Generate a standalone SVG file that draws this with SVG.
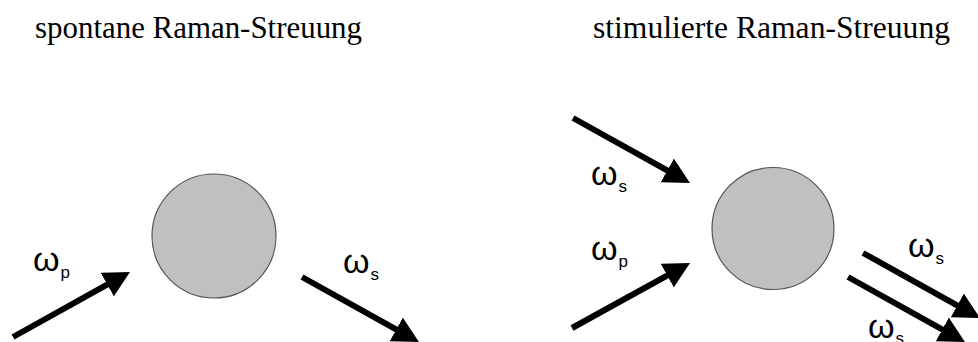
<svg xmlns="http://www.w3.org/2000/svg" width="978" height="342" viewBox="0 0 978 342">
<style>
.title{font-family:"Liberation Serif","Times New Roman",serif;font-size:31px;fill:#000}
.lbl{font-family:"Liberation Sans",Arial,sans-serif;font-size:34px;fill:#000}
.sub{font-size:17px}
.ball{fill:#c0c0c0;stroke:#555;stroke-width:1.2}
.arr{stroke:#000;stroke-width:6;fill:none;marker-end:url(#head)}
</style>
<defs>
<marker id="head" viewBox="0 0 26 27" markerWidth="26" markerHeight="27" refX="6" refY="13.5" markerUnits="userSpaceOnUse" orient="auto">
<path d="M0,0 L26,13.5 L0,27 z" fill="#000"/>
</marker>
</defs>
<rect width="978" height="342" fill="#fff"/>
<text class="title" x="35" y="38" textLength="327" lengthAdjust="spacingAndGlyphs">spontane Raman-Streuung</text>
<text class="title" x="593" y="38" textLength="357" lengthAdjust="spacingAndGlyphs">stimulierte Raman-Streuung</text>
<g id="scatterer-spontaneous"><circle class="ball" cx="214" cy="236" r="62"/></g>
<g id="scatterer-stimulated"><circle class="ball" cx="773" cy="228.5" r="61"/></g>
<g id="connectors">
<line class="arr" x1="13" y1="337" x2="112.5" y2="281.7"/>
<line class="arr" x1="302" y1="277" x2="401.5" y2="332.3"/>
<line class="arr" x1="573" y1="118" x2="672.5" y2="173.3"/>
<line class="arr" x1="572" y1="328" x2="672.5" y2="272.7"/>
<line class="arr" x1="863" y1="253" x2="962.5" y2="308.3"/>
<line class="arr" x1="848" y1="277" x2="947.5" y2="332.3"/>
</g>
<g id="labels">
<text class="lbl" x="33" y="271">ω<tspan class="sub" dx="1" dy="7">p</tspan></text>
<text class="lbl" x="343" y="273">ω<tspan class="sub" dx="1" dy="7">s</tspan></text>
<text class="lbl" x="591" y="185">ω<tspan class="sub" dx="1" dy="7">s</tspan></text>
<text class="lbl" x="591" y="260">ω<tspan class="sub" dx="1" dy="7">p</tspan></text>
<text class="lbl" x="908" y="257">ω<tspan class="sub" dx="1" dy="7">s</tspan></text>
<text class="lbl" x="868" y="338">ω<tspan class="sub" dx="1" dy="6">s</tspan></text>
</g>
</svg>
